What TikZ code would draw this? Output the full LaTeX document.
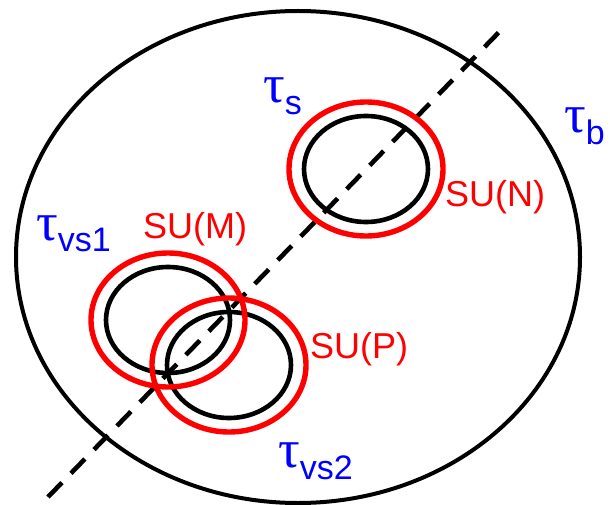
\documentclass[tikz,border=0pt]{standalone}
\usepackage{fontspec}
\setmainfont{Liberation Sans}
\newfontfamily\taufont{Liberation Serif}
\usepackage{tikz}

\newcommand{\tlabel}[1]{{\fontsize{54}{54}\taufont τ}\raisebox{-12pt}{\fontsize{34}{34}\selectfont #1}}

\begin{document}
\begin{tikzpicture}[
  x=1pt,y=-1pt,
  bulk/.style={draw=black,line width=4pt},
  inner/.style={draw=black,line width=4.6pt},
  ring/.style={draw=red,line width=5.4pt},
  cut/.style={draw=black,line width=4.6pt,dash pattern=on 20pt off 13pt},
  tlbl/.style={text=blue,inner sep=0pt,anchor=base west},
  glbl/.style={text=red,inner sep=0pt,anchor=base west,font=\fontsize{36}{36}\selectfont}
]
  \useasboundingbox (0,0) rectangle (610,505);

  % bulk and the dashed line
  \coordinate (cB) at (298,257);
  \draw[bulk] (cB) ellipse [x radius=282, y radius=246];
  \coordinate (lo) at (48,497);
  \coordinate (hi) at (503,28);
  \draw[cut] (lo) -- (hi);

  % stacks of branes
  \coordinate (cN) at (366,169);
  \coordinate (cM) at (168,320);
  \coordinate (cP) at (229,365);
  \foreach \c in {cN,cM,cP}
    \draw[inner] (\c) ellipse [x radius=62, y radius=53];
  \foreach \c in {cN,cM,cP}
    \draw[ring] (\c) ellipse [x radius=77, y radius=67];

  % labels
  \node[glbl] (suN) at (445,207) {SU(N)};
  \node[glbl] (suM) at (143,238) {SU(M)};
  \node[glbl] (suP) at (310,358) {SU(P)};
  \node[tlbl] (ts) at (263,103) {\tlabel{s}};
  \node[tlbl] (tb) at (564,133) {\tlabel{b}};
  \node[tlbl] (tvs1) at (36,240) {\tlabel{vs1}};
  \node[tlbl] (tvs2) at (278,467) {\tlabel{vs2}};
\end{tikzpicture}
\end{document}
